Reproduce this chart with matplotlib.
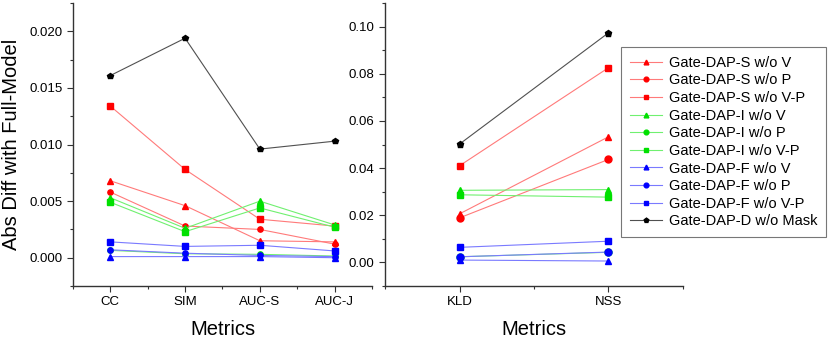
import matplotlib
matplotlib.use("Agg")
import matplotlib.pyplot as plt  # noqa: E402
from matplotlib.ticker import MultipleLocator  # noqa: E402

plt.rcParams["font.family"] = ["Liberation Sans", "DejaVu Sans"]

# Categories for each panel
LEFT_METRICS = ["CC", "SIM", "AUC-S", "AUC-J"]
RIGHT_METRICS = ["KLD", "NSS"]

SERIES = [
    "Gate-DAP-S w/o V", "Gate-DAP-S w/o P", "Gate-DAP-S w/o V-P",
    "Gate-DAP-I w/o V", "Gate-DAP-I w/o P", "Gate-DAP-I w/o V-P",
    "Gate-DAP-F w/o V", "Gate-DAP-F w/o P", "Gate-DAP-F w/o V-P",
    "Gate-DAP-D w/o Mask",
]

# Values (CC, SIM, AUC-S, AUC-J)
s_wo_v_left = [0.0068, 0.0046, 0.0015, 0.0014]
s_wo_p_left = [0.0058, 0.0028, 0.0025, 0.0012]
s_wo_vp_left = [0.0134, 0.0078, 0.0034, 0.0028]
i_wo_v_left = [0.0053, 0.0026, 0.0050, 0.0029]
i_wo_p_left = [0.00065, 0.00035, 0.0003, 0.00015]
i_wo_vp_left = [0.0049, 0.0023, 0.0044, 0.0027]
f_wo_v_left = [0.0001, 0.0001, 0.0001, 0.0000]
f_wo_p_left = [0.0007, 0.0004, 0.0002, 0.0001]
f_wo_vp_left = [0.0014, 0.0010, 0.0011, 0.0006]
d_wo_mask_left = [0.0161, 0.0194, 0.0096, 0.0103]

# (KLD, NSS)
s_wo_v_right = [0.0206, 0.0533]
s_wo_p_right = [0.0189, 0.0437]
s_wo_vp_right = [0.0410, 0.0826]
i_wo_v_right = [0.0306, 0.0309]
i_wo_p_right = [0.0024, 0.0043]
i_wo_vp_right = [0.0287, 0.0277]
f_wo_v_right = [0.0010, 0.0006]
f_wo_p_right = [0.0024, 0.0044]
f_wo_vp_right = [0.0064, 0.0090]
d_wo_mask_right = [0.0502, 0.0974]

LEFT = [s_wo_v_left, s_wo_p_left, s_wo_vp_left, i_wo_v_left, i_wo_p_left,
        i_wo_vp_left, f_wo_v_left, f_wo_p_left, f_wo_vp_left, d_wo_mask_left]
RIGHT = [s_wo_v_right, s_wo_p_right, s_wo_vp_right, i_wo_v_right, i_wo_p_right,
         i_wo_vp_right, f_wo_v_right, f_wo_p_right, f_wo_vp_right, d_wo_mask_right]

# marker colour, line colour (lighter), marker shape
STYLE = [
    ("#ff0000", "#ff7a7a", "^"), ("#ff0000", "#ff7a7a", "o"), ("#ff0000", "#ff7a7a", "s"),
    ("#00e000", "#70f070", "^"), ("#00e000", "#70f070", "o"), ("#00e000", "#70f070", "s"),
    ("#0000ff", "#7a7aff", "^"), ("#0000ff", "#7a7aff", "o"), ("#0000ff", "#7a7aff", "s"),
    ("#000000", "#505050", "p"),
]


def style_axis(ax, labels, ylim, major, minor, fmt):
    x = range(len(labels))
    ax.set_xlim(-0.5, len(labels) - 0.5)
    ax.set_xticks(list(x))
    ax.set_xticklabels(labels, fontsize=9.5)
    ax.xaxis.set_minor_locator(MultipleLocator(0.5))
    ax.set_ylim(*ylim)
    ax.yaxis.set_major_locator(MultipleLocator(major))
    ax.yaxis.set_minor_locator(MultipleLocator(minor))
    ax.yaxis.set_major_formatter(fmt)
    ax.tick_params(axis="both", which="major", length=4, width=0.8, labelsize=9.5,
                   color="#333333")
    ax.tick_params(axis="both", which="minor", length=2.5, width=0.8, color="#333333")
    ax.spines[["top", "right"]].set_visible(False)
    for s in ("left", "bottom"):
        ax.spines[s].set_linewidth(1.0)
        ax.spines[s].set_color("#333333")
    ax.set_xlabel("Metrics", fontsize=14.5, labelpad=8)


fig = plt.figure(figsize=(8.31, 3.40), dpi=100)
ax1 = fig.add_axes([0.0878, 0.1588, 0.3598, 0.832])
ax2 = fig.add_axes([0.4633, 0.1588, 0.3586, 0.832])

handles = []
for name, vals, (mc, lc, mk) in zip(SERIES, LEFT, STYLE):
    h, = ax1.plot(range(len(LEFT_METRICS)), vals, color=lc, lw=0.8, marker=mk,
                  ms=3.8, mfc=mc, mec=mc, label=name)
    handles.append(h)
for vals, (mc, lc, mk) in zip(RIGHT, STYLE):
    ax2.plot(range(len(RIGHT_METRICS)), vals, color=lc, lw=0.8, marker=mk,
             ms=5, mfc=mc, mec=mc)

style_axis(ax1, LEFT_METRICS, (-0.0025, 0.0225), 0.005, 0.0025,
           lambda v, p: f"{v:.3f}")
style_axis(ax2, RIGHT_METRICS, (-0.01, 0.11), 0.02, 0.01,
           lambda v, p: f"{v:.2f}")
ax1.set_ylabel("Abs Diff with Full-Model", fontsize=14.5, labelpad=6)

leg = fig.legend(handles=handles, loc="upper left", bbox_to_anchor=(0.747, 0.862),
                 borderaxespad=0, fontsize=10.5, frameon=True, fancybox=False,
                 handlelength=2.2, borderpad=0.6, labelspacing=0.25,
                 handletextpad=0.5, markerscale=0.9)
leg.get_frame().set_edgecolor("#555555")
leg.get_frame().set_linewidth(0.8)

fig.savefig("out.png", dpi=100)
